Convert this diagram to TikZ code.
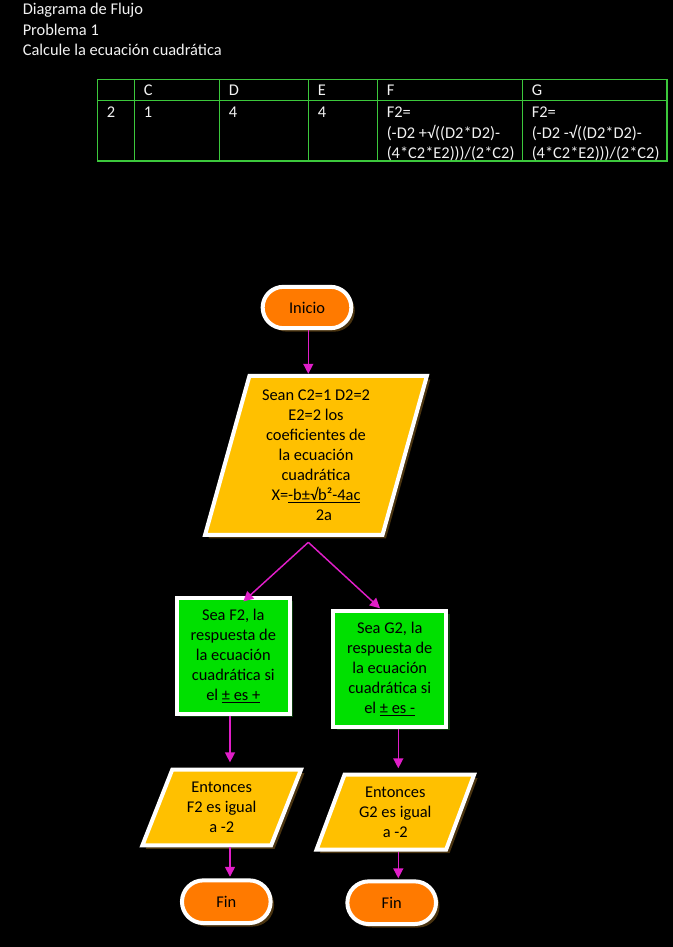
\documentclass[tikz,border=0pt]{standalone}
\usepackage{fontspec}
\setmainfont{Carlito}
\usetikzlibrary{shapes.geometric,shapes.misc,arrows.meta,shadows,calc}
\definecolor{orng}{HTML}{FF7A00}
\definecolor{gold}{HTML}{FFC000}
\definecolor{grn}{HTML}{00E000}
\definecolor{mag}{HTML}{E01EC8}
\definecolor{tgrn}{HTML}{3CC83C}
\definecolor{txtc}{HTML}{F2F2F2}
\definecolor{brsh}{HTML}{4A3410}
\definecolor{gsh}{HTML}{0C3A0C}
\begin{document}
\begin{tikzpicture}[x=0.75pt,y=-0.75pt,
  base/.style={font=\fontsize{12.3}{15}\selectfont, text=black, align=center, inner sep=0pt},
  hdr/.style={font=\fontsize{12.3}{15}\selectfont, text=txtc, anchor=base west, inner sep=0pt},
  term/.style={base, rounded rectangle, draw=white, line width=3pt, fill=orng,
    minimum width=66.5pt, minimum height=31pt,
    drop shadow={shadow xshift=2.6pt, shadow yshift=-2.6pt, fill=brsh, opacity=1}},
  iobox/.style={base, trapezium, trapezium stretches=true, draw=white, line width=3pt, fill=gold,
    drop shadow={shadow xshift=2.6pt, shadow yshift=-2.6pt, fill=brsh, opacity=1}},
  proc/.style={base, rectangle, draw=white, line width=3pt, fill=grn,
    minimum width=84.7pt, minimum height=87pt,
    drop shadow={shadow xshift=2.6pt, shadow yshift=-2.6pt, fill=gsh, opacity=1}},
  arr/.style={draw=mag, line width=1.1pt, -{Triangle[length=7.5pt,width=7.5pt]}},
  tline/.style={draw=tgrn, line width=1.1pt}
]
\fill[black] (0,0) rectangle (673,947);
\useasboundingbox (0,0) rectangle (673,947);

% header texts
\node[hdr] (t1) at (22.5,14.5) {Diagrama de Flujo};
\node[hdr] (t2) at (22.5,35.5) {Problema 1};
\node[hdr] (t3) at (22.5,55.7) {Calcule la ecuación cuadrática};

% table grid
\draw[tline] (97.3,79.3) rectangle (667,161);
\draw[tline] (97.3,100.3) -- (667,100.3);
\foreach \cx in {134.3,219.3,308.3,377.3,522.3} {\draw[tline] (\cx,79.3) -- (\cx,161);}

% table texts
\node[hdr] (hc) at (143.5,95.5) {C};
\node[hdr] (hd) at (228.5,95.5) {D};
\node[hdr] (he) at (317.5,95.5) {E};
\node[hdr] (hf) at (386.5,95.5) {F};
\node[hdr] (hg) at (531.5,95.5) {G};
\node[hdr] (r2) at (106.5,117) {2};
\node[hdr] (rc) at (143.5,117) {1};
\node[hdr] (rd) at (228.5,117) {4};
\node[hdr] (re) at (317.5,117) {4};
\node[hdr] (rf1) at (386.5,117) {F2=};
\node[hdr] (rf2) at (386.5,138) {(-D2 +√((D2*D2)-};
\node[hdr] (rf3) at (386.5,158.5) {(4*C2*E2)))/(2*C2)};
\node[hdr] (rg1) at (531.5,117) {F2=};
\node[hdr] (rg2) at (531.5,138) {(-D2 -√((D2*D2)-};
\node[hdr] (rg3) at (531.5,158.5) {(4*C2*E2)))/(2*C2)};

% flowchart nodes
\node[term] (inicio) at (307,307.5) {Inicio};
\node[iobox, trapezium left angle=74.6, trapezium right angle=105.4,
  minimum width=166.5pt, minimum height=119.25pt] (p1) at (316,455.3)
  {Sean C2=1 D2=2\\E2=2 los\\coeficientes de\\la ecuación\\cuadrática\\X=\underline{-b±√b²-4ac}\\\hspace*{12pt}2a};
\node[proc] (gl) at (233.3,655.8) {Sea F2, la\\respuesta de\\la ecuación\\cuadrática si\\el \underline{± es +}};
\node[proc] (gr) at (389.7,669) {Sea G2, la\\respuesta de\\la ecuación\\cuadrática si\\el \underline{± es -}};
\node[iobox, trapezium left angle=67.5, trapezium right angle=112.5,
  minimum width=119.5pt, minimum height=56.7pt] (p2) at (221.7,807.5) {Entonces\\F2 es igual\\a -2};
\node[iobox, trapezium left angle=68.5, trapezium right angle=111.5,
  minimum width=119pt, minimum height=56.25pt] (p3) at (395.3,812.2) {Entonces\\G2 es igual\\a -2};
\node[term, minimum height=32pt] (finl) at (226.3,901.7) {Fin};
\node[term, minimum height=32pt] (finr) at (391.7,902.7) {Fin};

% arrow guide coordinates
\coordinate (ax0) at (308.3,0);
\coordinate (axl) at (230,0);
\coordinate (axr) at (398.3,0);

% connectors
\draw[arr] (inicio.south -| ax0) -- (p1.north -| ax0);
\draw[arr] ($(p1.south -| ax0)+(0,5.5)$) -- ($(gl.north)+(10,5.7)$);
\draw[arr] ($(p1.south -| ax0)+(0,5.5)$) -- ($(gr.north)+(-9.7,-0.7)$);
\draw[arr, shorten >=4pt] (gl.south -| axl) -- (p2.north -| axl);
\draw[arr, shorten >=3.3pt] (gr.south -| axr) -- (p3.north -| axr);
\draw[arr, shorten >=1.2pt] (p2.south -| axl) -- (finl.north -| axl);
\draw[arr, shorten >=0.8pt] (p3.south -| axr) -- (finr.north -| axr);
\end{tikzpicture}
\end{document}
